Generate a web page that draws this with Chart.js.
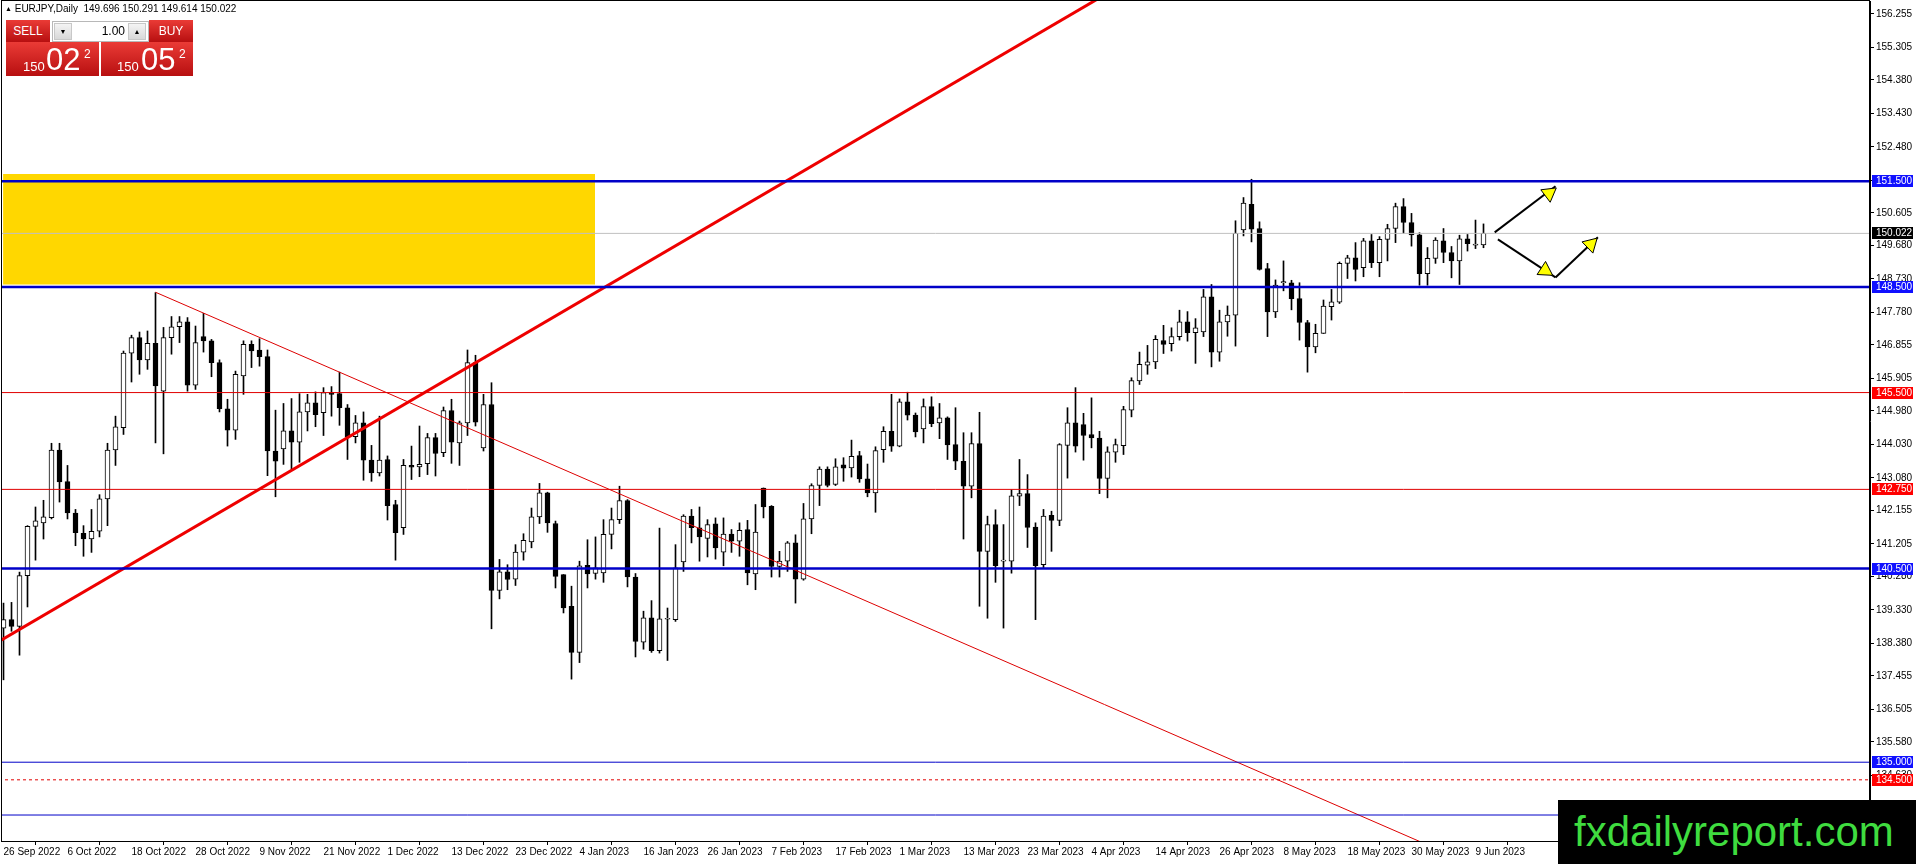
<!DOCTYPE html>
<html>
<head>
<meta charset="utf-8">
<title>EURJPY Daily</title>
<script src="https://cdn.jsdelivr.net/npm/chart.js@4.4.0/dist/chart.umd.min.js"></script>
<style>
html, body { margin: 0; padding: 0; background: #fff; overflow: hidden; }
#wrap { position: relative; width: 1916px; height: 864px; font-family: "Liberation Sans", Arial, sans-serif; }
#chart { position: absolute; left: 0; top: 0; }
#title { position: absolute; left: 5px; top: 3px; font-size: 10px; color: #000; white-space: pre; }
#title .tri { font-size: 7px; vertical-align: 1px; }
.red { position: absolute; background: linear-gradient(#ea3b36, #b70f10); color: #fff; }
.btn { text-align: center; font-size: 12px; line-height: 22px; }
#sell { left: 6px; top: 20px; width: 44px; height: 22px; }
#buy { left: 149px; top: 20px; width: 44px; height: 22px; }
#lot { position: absolute; left: 52px; top: 21px; width: 95px; height: 19px; background: #fff; border: 1px solid #b8b8b8; font-size: 12px; }
#lot .arr { position: absolute; top: 1px; width: 18px; height: 17px; background: linear-gradient(#f4f4f4, #d8d8d8); border: 1px solid #c8c8c8; box-sizing: border-box; font-size: 7px; line-height: 16px; text-align: center; color: #000; }
#lot .val { position: absolute; left: 40px; top: 2px; width: 32px; text-align: right; }
#sellp { left: 6px; top: 42px; width: 93px; height: 34px; }
#buyp { left: 101px; top: 42px; width: 92px; height: 34px; }
.small { position: absolute; top: 17px; font-size: 13px; }
.big { position: absolute; top: 1px; font-size: 31px; line-height: 34px; }
.sup { position: absolute; top: 5px; font-size: 12px; }
#mark { position: absolute; left: 1558px; top: 800px; width: 358px; height: 64px; background: #000; color: #3fdc3f; font-size: 42px; line-height: 64px; }
#mark span { position: absolute; left: 16px; top: 0px; }
</style>
</head>
<body>
<div id="wrap">
<canvas id="chart" width="1916" height="864"></canvas>
<div id="title"></div>
<div id="sell" class="red btn">SELL</div>
<div id="lot"><div class="arr" style="left:1px">&#9660;</div><div class="val">1.00</div><div class="arr" style="left:75px">&#9650;</div></div>
<div id="buy" class="red btn">BUY</div>
<div id="sellp" class="red"><span class="small" style="left:17px">150</span><span class="big" style="left:40px">02</span><span class="sup" style="left:78px">2</span></div>
<div id="buyp" class="red"><span class="small" style="left:16px">150</span><span class="big" style="left:40px">05</span><span class="sup" style="left:78px">2</span></div>
<div id="mark"><span>fxdailyreport.com</span></div>
</div>
<script>
// EURJPY daily candles, 26 Sep 2022 .. 12 Jun 2023
const symbol = "EURJPY,Daily";

const opens = [
  138.81,139.05,138.86,140.30,141.70,141.80,141.95,143.87,142.97,142.08,
  141.50,141.34,141.56,142.48,143.87,144.50,146.62,147.06,146.43,146.90,
  145.54,147.06,147.37,147.51,145.71,147.09,146.97,146.35,145.04,144.43,
  145.97,146.87,146.71,146.52,143.84,143.90,144.41,144.09,144.95,145.21,
  144.93,145.50,145.47,145.07,144.25,144.64,143.58,143.22,143.60,142.32,
  141.66,143.43,143.39,143.48,144.22,143.79,144.99,144.07,144.64,146.35,
  143.93,145.16,139.88,140.41,140.20,140.97,141.26,141.97,142.65,141.78,
  140.33,139.43,138.12,140.59,140.36,140.38,141.47,141.89,142.43,140.26,
  138.41,139.10,138.17,139.06,139.05,140.69,141.99,141.66,141.36,141.77,
  140.97,141.48,141.28,141.61,140.35,142.79,142.27,140.56,140.71,141.23,
  140.20,141.91,142.86,143.33,142.89,143.45,143.36,143.71,143.05,142.65,
  143.88,144.40,143.98,145.24,144.86,144.47,145.10,144.64,144.78,144.02,
  143.55,142.84,144.05,140.99,141.75,140.71,140.71,142.56,142.63,141.68,
  140.61,142.01,141.87,144.00,144.64,144.59,144.31,144.21,143.06,143.81,
  143.99,145.00,145.83,146.28,146.37,146.98,146.89,147.09,147.51,147.20,
  147.22,148.22,146.65,147.51,147.70,150.12,150.85,150.16,149.02,147.79,
  148.62,148.62,148.17,147.49,146.80,147.18,147.94,148.07,149.17,149.33,
  149.05,149.81,149.19,149.85,150.16,150.78,150.33,149.98,148.88,149.31,
  149.81,149.48,149.24,149.87,149.69,149.696
];
const highs = [
  139.52,139.54,140.40,141.72,142.25,142.44,144.06,144.06,143.43,142.18,
  141.72,142.18,142.60,144.06,144.83,146.68,147.13,147.22,147.25,148.34,
  147.35,147.66,147.66,147.63,147.39,147.75,147.01,146.43,145.31,146.11,
  146.97,146.97,147.03,146.71,145.00,145.19,145.33,145.47,145.45,145.52,
  145.64,145.67,146.08,145.16,144.85,144.95,144.00,144.83,143.70,142.44,
  143.60,143.98,144.55,144.34,144.34,145.09,145.31,144.69,146.71,146.56,
  145.45,145.78,140.76,140.61,141.18,141.49,142.22,142.92,142.67,141.85,
  140.33,140.00,140.71,141.32,141.40,141.89,142.22,142.84,142.46,140.36,
  139.29,139.59,141.65,139.38,141.18,142.03,142.18,142.25,141.89,141.94,
  141.94,141.61,141.80,141.87,142.32,142.79,142.29,140.99,141.27,141.46,
  142.35,142.91,143.39,143.39,143.62,143.65,144.15,143.83,143.47,143.96,
  144.53,145.45,145.32,145.51,144.92,145.32,145.38,145.19,144.81,145.07,
  144.36,144.36,144.94,141.99,142.17,141.75,142.74,143.60,143.17,141.80,
  142.18,142.13,144.05,145.07,145.64,144.91,145.35,144.40,143.96,144.18,
  145.11,145.92,146.65,146.84,147.12,147.41,147.34,147.84,147.80,147.60,
  148.43,148.57,147.84,147.96,150.38,151.04,151.56,150.35,149.17,148.70,
  149.24,148.69,148.62,147.55,147.44,148.13,148.43,149.21,149.40,149.76,
  149.88,149.99,149.93,150.28,150.88,151.01,150.59,150.04,149.62,149.90,
  150.16,149.65,149.97,149.99,150.40,150.291
];
const lows = [
  137.34,138.72,138.04,139.41,140.74,141.34,141.91,142.39,141.91,141.15,
  140.85,140.96,141.40,141.72,143.43,144.31,145.80,146.02,146.16,144.07,
  143.76,146.59,146.92,145.54,145.59,146.65,145.95,144.95,143.98,144.17,
  145.45,146.21,146.25,143.14,142.54,143.46,143.32,143.52,144.41,144.53,
  144.28,144.83,144.57,143.60,144.07,143.01,142.98,143.13,141.88,140.74,
  141.47,143.03,143.11,143.17,143.13,143.68,143.49,143.43,144.28,144.55,
  143.84,138.79,139.64,139.90,140.02,140.74,141.09,141.78,141.53,139.95,
  139.24,137.36,137.83,139.95,140.20,140.11,141.06,141.78,139.98,137.99,
  138.21,138.12,138.10,137.89,139.00,140.42,141.23,140.71,140.83,140.77,
  140.58,140.96,140.85,140.04,139.90,141.94,140.26,140.26,140.42,139.52,
  140.17,141.49,142.29,142.82,142.86,142.98,143.10,142.95,142.54,142.10,
  143.52,143.83,143.96,144.72,144.24,144.07,144.53,144.19,143.60,143.31,
  141.34,142.51,139.43,139.09,140.11,138.81,140.37,142.29,141.10,139.05,
  140.52,140.99,141.72,143.07,143.81,143.58,143.93,142.63,142.51,143.52,
  143.74,144.81,145.73,146.02,146.18,146.61,146.68,146.99,146.96,146.33,
  147.09,146.23,146.39,147.10,146.82,149.95,149.78,148.98,147.09,147.63,
  148.39,147.85,146.99,146.08,146.63,147.18,147.56,148.03,148.74,148.67,
  148.79,149.05,148.79,149.24,149.76,150.03,149.66,148.55,148.55,149.17,
  149.19,148.76,148.57,149.52,149.59,149.614
];
const closes = [
  139.05,138.86,140.30,141.70,141.86,141.97,143.87,142.96,142.08,141.52,
  141.34,141.56,142.48,143.87,144.53,146.62,147.06,146.43,146.90,145.69,
  147.06,147.37,147.51,145.71,146.92,146.97,146.35,145.04,144.43,146.02,
  146.87,146.68,146.52,143.84,143.55,144.41,144.09,144.95,145.21,144.87,
  145.50,145.45,145.07,144.25,144.64,143.58,143.22,143.58,142.29,141.52,
  143.43,143.38,143.46,144.22,143.77,144.99,144.09,144.64,146.35,144.66,
  145.16,139.88,140.41,140.19,140.97,141.30,141.97,142.65,141.80,140.28,
  139.38,138.12,140.58,140.35,140.52,141.47,141.89,142.43,140.26,138.43,
  139.10,138.17,139.07,139.08,140.52,141.99,141.66,141.40,141.75,141.09,
  141.48,141.28,141.59,140.38,141.54,142.25,140.56,140.71,141.23,140.20,
  141.91,142.86,143.33,142.86,143.39,143.35,143.69,143.05,142.65,143.85,
  144.40,143.98,145.24,144.86,144.38,145.10,144.62,144.78,144.01,143.55,
  142.84,144.05,140.99,141.75,140.58,140.74,142.57,142.63,141.67,140.58,
  141.99,141.87,144.02,144.64,143.98,144.28,144.21,143.06,143.82,144.02,
  145.02,145.84,146.30,146.37,147.01,146.87,147.09,147.51,147.20,147.34,
  148.22,146.65,147.51,147.70,150.02,150.88,150.14,149.00,147.79,148.55,
  148.65,148.17,147.49,146.80,147.18,147.96,148.08,149.17,149.33,149.00,
  149.81,149.19,149.85,150.16,150.78,150.33,149.98,148.88,149.31,149.83,
  149.48,149.24,149.87,149.73,149.72,150.022
];

// one date label every 8 bars
const tickDates = [
  "26 Sep 2022","6 Oct 2022","18 Oct 2022","28 Oct 2022","9 Nov 2022","21 Nov 2022",
  "1 Dec 2022","13 Dec 2022","23 Dec 2022","4 Jan 2023","16 Jan 2023","26 Jan 2023",
  "7 Feb 2023","17 Feb 2023","1 Mar 2023","13 Mar 2023","23 Mar 2023","4 Apr 2023",
  "14 Apr 2023","26 Apr 2023","8 May 2023","18 May 2023","30 May 2023","9 Jun 2023"
];
const labelStep = 8;

const priceTicks = [
  156.255,155.305,154.380,153.430,152.480,151.530,150.605,149.680,148.730,147.780,
  146.855,145.905,144.980,144.030,143.080,142.155,141.205,140.280,139.330,138.380,
  137.455,136.505,135.580,134.630,133.705
];

// horizontal levels drawn on the chart
const levels = [151.5, 148.5, 145.5, 142.75, 140.5, 135.0, 134.5, 133.5];
// trend lines: [barIndex, price] pairs
const supportLine = [[-1, 138.37], [150, 158.44]];
const resistanceLine = [[19, 148.35], [200, 130.48]];
// supply zone: bar range and price range
const zoneBars = [-0.05, 73.95];
const zonePrices = [148.57, 151.71];
// projection arrows: start, end (bar, price)
const arrows = [
  [[186.4, 150.05], [194.0, 151.36]],
  [[186.8, 149.85], [194.0, 148.77]],
  [[194.0, 148.77], [199.3, 149.91]]
];
const arrowHeads = [[193.2, 151.16], [192.7, 148.97], [198.4, 149.71]];

// ---- styles ----
const BLUE = '#0000c8', RED = '#e00000';
const levelStyles = [
  { c: BLUE, w: 2.5 }, { c: BLUE, w: 2.5 }, { c: RED, w: 1 }, { c: RED, w: 1 },
  { c: BLUE, w: 2.5 }, { c: BLUE, w: 1 }, { c: RED, w: 1, dash: [3, 3] }, { c: BLUE, w: 1 }
];
const tagColors = { 151.5: '#1010ff', 148.5: '#1010ff', 145.5: '#ff0000', 142.75: '#ff0000',
                    140.5: '#1010ff', 135.0: '#1010ff', 134.5: '#ff0000' };
const headAngles = [53, 123, 46];

const last = closes.length - 1;
document.getElementById('title').innerHTML =
  '<span class="tri">&#9650;</span> ' + symbol + '  ' +
  [opens[last], highs[last], lows[last], closes[last]].map(v => v.toFixed(3)).join(' ');

const xMin = -0.3125, xMax = xMin + 1869 / 8;
const yMin = 132.762, yMax = 156.623;

const wickData = highs.map((h, i) => ({ x: i, y: [lows[i], h] }));
const bodyData = opens.map((o, i) => ({ x: i, y: [o, closes[i]] }));
const bodyFill = opens.map((o, i) => closes[i] >= o ? '#ffffff' : '#000000');

const lineSet = (pts, color, width, extra) => Object.assign({
  type: 'line', data: pts.map(p => ({ x: p[0], y: p[1] })),
  borderColor: color, borderWidth: width, pointRadius: 0, fill: false, order: 0
}, extra || {});

const datasets = [];
datasets.push(lineSet([[zoneBars[0], zonePrices[1]], [zoneBars[1], zonePrices[1]]], 'rgba(0,0,0,0)', 0,
  { fill: { value: zonePrices[0] }, backgroundColor: '#ffd700', order: 5 }));
datasets.push({ type: 'bar', data: wickData, backgroundColor: '#000', barThickness: 1,
  grouped: false, order: 4 });
datasets.push({ type: 'bar', data: bodyData, backgroundColor: bodyFill, borderColor: '#000',
  borderWidth: 1, borderSkipped: false, barThickness: 5, minBarLength: 1, grouped: false, order: 3 });
datasets.push(lineSet([[xMin - 1, closes[last]], [xMax + 1, closes[last]]], '#c0c0c0', 1, { order: 2 }));
levels.forEach((v, i) => {
  const s = levelStyles[i];
  datasets.push(lineSet([[xMin - 1, v], [xMax + 1, v]], s.c, s.w, s.dash ? { borderDash: s.dash } : {}));
});
datasets.push(lineSet(supportLine, '#ee0000', 3));
datasets.push(lineSet(resistanceLine, '#dd0000', 1));
arrows.forEach(a => datasets.push(lineSet(a, '#000', 2)));
arrowHeads.forEach((h, i) => datasets.push({
  type: 'scatter', data: [{ x: h[0], y: h[1] }], pointStyle: 'triangle', pointRadius: 9,
  rotation: headAngles[i], backgroundColor: '#ffff00', borderColor: '#000', borderWidth: 1, order: -1
}));

const frameAndTags = {
  id: 'frameAndTags',
  afterDraw(chart) {
    const { ctx, chartArea: a, scales: { y } } = chart;
    ctx.save();
    ctx.strokeStyle = '#000';
    ctx.lineWidth = 1;
    ctx.strokeRect(a.left + 0.5, a.top - 0.5, a.right - a.left - 1, a.bottom - a.top + 1);
    ctx.font = '10px "Liberation Sans", Arial, sans-serif';
    ctx.textBaseline = 'middle';
    ctx.textAlign = 'left';
    const tags = Object.keys(tagColors).map(k => ({ v: +k, c: tagColors[k] }));
    tags.push({ v: closes[last], c: '#000000' });
    tags.forEach(t => {
      const py = Math.round(y.getPixelForValue(t.v));
      ctx.fillStyle = t.c;
      ctx.fillRect(a.right + 2, py - 6, 41, 12);
      ctx.fillStyle = '#fff';
      ctx.fillText(t.v.toFixed(3), a.right + 6, py + 0.5);
    });
    ctx.restore();
  }
};

// keep the plot edges where MT4 has them: no label padding from the axes
const noPad = s => { s.paddingTop = 0; s.paddingBottom = 0; s.paddingLeft = 0; s.paddingRight = 0; };
const tickFont = { family: '"Liberation Sans", Arial, sans-serif', size: 10 };

new Chart(document.getElementById('chart'), {
  type: 'bar',
  data: { datasets: datasets },
  options: {
    responsive: false,
    animation: false,
    events: [],
    layout: { autoPadding: false, padding: { left: 1, top: 1, right: 0, bottom: 0 } },
    plugins: { legend: { display: false }, tooltip: { enabled: false } },
    scales: {
      x: {
        type: 'linear', min: xMin, max: xMax, offset: false,
        afterBuildTicks: s => { s.ticks = tickDates.map((d, i) => ({ value: i * labelStep })); },
        afterFit: s => { s.height = 23; noPad(s); },
        ticks: {
          autoSkip: false, maxRotation: 0, align: 'start', padding: 1, color: '#000', font: tickFont,
          callback: v => tickDates[Math.round(v / labelStep)]
        },
        grid: { drawOnChartArea: false, drawTicks: true, tickLength: 4, color: '#000' },
        border: { display: true, color: '#000' }
      },
      y: {
        type: 'linear', position: 'right', min: yMin, max: yMax,
        afterBuildTicks: s => { s.ticks = priceTicks.map(v => ({ value: v })); },
        afterFit: s => { s.width = 46; noPad(s); },
        ticks: { padding: 2, color: '#000', font: tickFont, callback: v => v.toFixed(3) },
        grid: { drawOnChartArea: false, drawTicks: true, tickLength: 4, color: '#000' },
        border: { display: true, color: '#000' }
      }
    }
  },
  plugins: [frameAndTags]
});
</script>
</body>
</html>
